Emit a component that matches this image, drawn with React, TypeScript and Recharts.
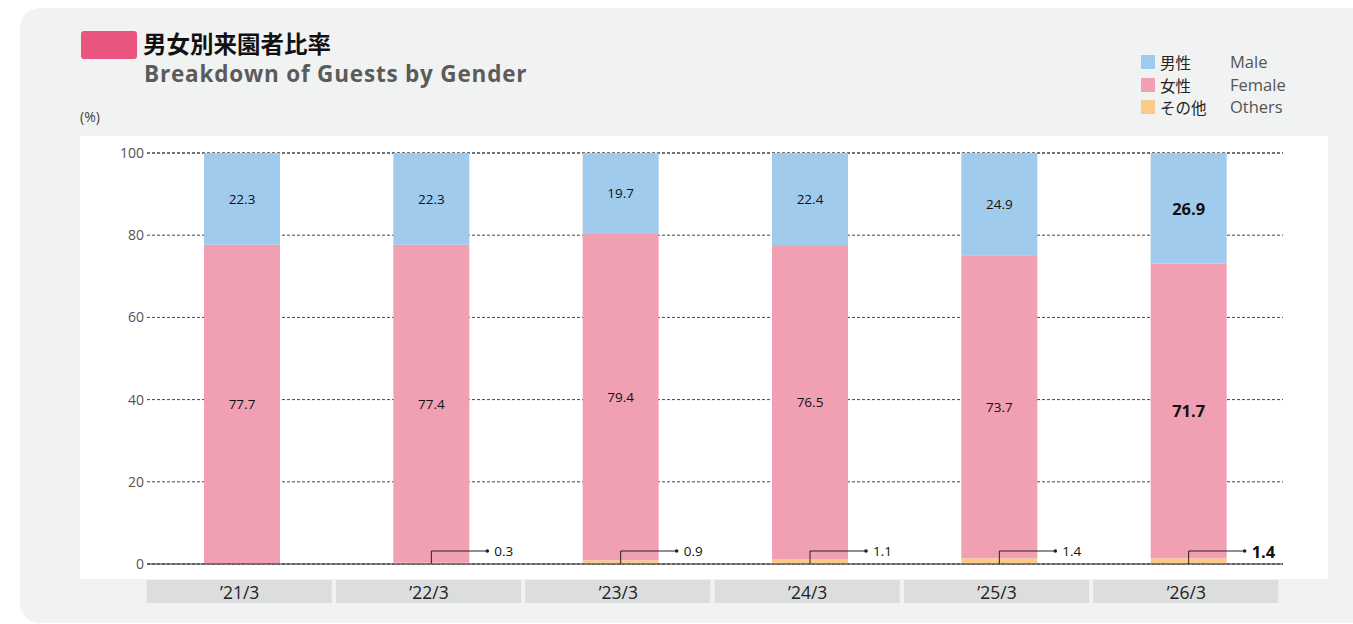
import React from 'react';
import { BarChart, Bar, XAxis, YAxis, CartesianGrid, LabelList } from 'recharts';

const categories = ['’21/3', '’22/3', '’23/3', '’24/3', '’25/3', '’26/3'];
const maleValues = [22.3, 22.3, 19.7, 22.4, 24.9, 26.9];
const femaleValues = [77.7, 77.4, 79.4, 76.5, 73.7, 71.7];
const otherValues = [0, 0.3, 0.9, 1.1, 1.4, 1.4];
const yTicks = [0, 20, 40, 60, 80, 100];
const seriesNamesJa = ['男性', '女性', 'その他'];
const seriesNamesEn = ['Male', 'Female', 'Others'];
const seriesColors = ['#a0cbec', '#f1a0b3', '#fbc98a'];

const data = categories.map((c, i) => ({
  name: c,
  male: maleValues[i],
  female: femaleValues[i],
  other: otherValues[i],
}));

const FONT = '"Open Sans", "Noto Sans CJK JP", sans-serif';
const JFONT = '"Noto Sans CJK JP", "Open Sans", sans-serif';
const LAST = categories.length - 1;

const CenterLabel = (props: any) => {
  const { x, y, width, height, value, index } = props;
  const last = index === LAST;
  return (
    <text
      x={Number(x) + Number(width) / 2}
      y={Number(y) + Number(height) / 2}
      textAnchor="middle"
      dominantBaseline="central"
      fontFamily={FONT}
      fontSize={last ? 16.5 : 13.5}
      fontWeight={last ? 700 : 400}
      fill="#111"
    >
      {Number(value).toFixed(1)}
    </text>
  );
};

const CalloutLabel = (props: any) => {
  const { x, y, width, height, value } = props;
  const i = categories.indexOf(String(value));
  const v = i >= 0 ? otherValues[i] : 0;
  if (!v) return null;
  const last = i === LAST;
  const cx = Number(x) + Number(width) / 2;
  const base = Number(y) + Number(height);
  const lineY = base - 13;
  return (
    <g>
      <polyline
        points={`${cx},${base} ${cx},${lineY} ${cx + 56},${lineY}`}
        fill="none"
        stroke="#222"
        strokeWidth={1}
      />
      <circle cx={cx + 56} cy={lineY} r={1.8} fill="#222" />
      <text
        x={cx + 63}
        y={lineY}
        dominantBaseline="central"
        fontFamily={FONT}
        fontSize={last ? 16.5 : 13.5}
        fontWeight={last ? 700 : 400}
        fill="#111"
      >
        {v.toFixed(1)}
      </text>
    </g>
  );
};

const XTick = (props: any) => {
  const { x, y, payload } = props;
  return (
    <g>
      <rect x={x - 95} y={y} width={185} height={23} fill="#dcdedd" />
      <text
        x={x - 2}
        y={y + 12}
        textAnchor="middle"
        dominantBaseline="central"
        fontFamily={FONT}
        fontSize={17.5}
        fill="#222"
      >
        {payload.value}
      </text>
    </g>
  );
};

const LegendBlock = () => (
  <div style={{ position: 'absolute', left: 1141, top: 51, fontFamily: FONT }}>
    {seriesNamesJa.map((n, i) => (
      <div key={n} style={{ display: 'flex', alignItems: 'center', height: 22.5 }}>
        <div style={{ width: 14, height: 14, background: seriesColors[i], marginRight: 5 }} />
        <span style={{ fontFamily: JFONT, fontSize: 15.5, color: '#222', width: 70, lineHeight: '20px' }}>{n}</span>
        <span style={{ fontSize: 16.5, color: '#555', lineHeight: '20px' }}>{seriesNamesEn[i]}</span>
      </div>
    ))}
  </div>
);

export default function App() {
  return (
    <div style={{ position: 'absolute', left: 0, top: 0, width: 1353, height: 624, background: '#fff', overflow: 'hidden' }}>
      <div style={{ position: 'absolute', left: 20, top: 8, width: 1360, height: 615, background: '#f1f2f2', borderRadius: 20 }} />
      <div style={{ position: 'absolute', left: 80, top: 136, width: 1248, height: 443, background: '#fff' }} />
      <div style={{ position: 'absolute', left: 81, top: 31, width: 56, height: 28, background: '#e9557f', borderRadius: 3 }} />
      <div style={{ position: 'absolute', left: 143, top: 27, fontFamily: JFONT, fontSize: 23.5, fontWeight: 700, color: '#111', lineHeight: '32px' }}>
        男女別来園者比率
      </div>
      <div style={{ position: 'absolute', left: 144, top: 59, fontFamily: FONT, fontSize: 22.5, fontWeight: 700, color: '#5b5b5b', lineHeight: '30px', letterSpacing: 0.8 }}>
        Breakdown of Guests by Gender
      </div>
      <div style={{ position: 'absolute', left: 80, top: 108, fontFamily: FONT, fontSize: 14, color: '#444', lineHeight: '18px' }}>
        (%)
      </div>
      <LegendBlock />
      <div style={{ position: 'absolute', left: 0, top: 0 }}>
        <BarChart
          width={1353}
          height={624}
          data={data}
          margin={{ top: 153, right: 70, bottom: 21, left: 97 }}
          barSize={76}
        >
          <CartesianGrid vertical={false} stroke="#444" strokeDasharray="3 2" />
          <YAxis
            width={50}
            domain={[0, 100]}
            ticks={yTicks}
            tickLine={false}
            axisLine={false}
            tickSize={0}
            tickMargin={3}
            tick={{ fontFamily: FONT, fontSize: 14, fill: '#555' }}
            interval={0}
          />
          <XAxis
            dataKey="name"
            height={39}
            axisLine={{ stroke: '#222', strokeWidth: 1.2 }}
            tickLine={false}
            tickSize={0}
            tickMargin={16}
            tick={<XTick />}
            interval={0}
          />
          <Bar dataKey="other" stackId="s" fill={seriesColors[2]} isAnimationActive={false}>
            <LabelList dataKey="name" content={<CalloutLabel />} />
          </Bar>
          <Bar dataKey="female" stackId="s" fill={seriesColors[1]} isAnimationActive={false}>
            <LabelList dataKey="female" content={<CenterLabel />} />
          </Bar>
          <Bar dataKey="male" stackId="s" fill={seriesColors[0]} isAnimationActive={false}>
            <LabelList dataKey="male" content={<CenterLabel />} />
          </Bar>
        </BarChart>
      </div>
    </div>
  );
}
